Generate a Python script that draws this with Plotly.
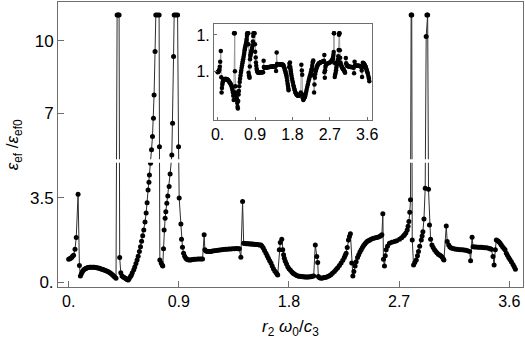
import numpy as np
import plotly.graph_objects as go

# r2*w0/c3 values and eps_ef/eps_ef0 (spikes clipped at ~11)
x_vals = [
    0.000, 0.008, 0.016, 0.024, 0.032, 0.040, 0.052, 0.062, 0.077, 0.088, 0.096, 0.104, 0.112, 0.120,
    0.128, 0.136, 0.144, 0.152, 0.160, 0.170, 0.180, 0.190, 0.200, 0.210, 0.220, 0.230, 0.240, 0.250,
    0.260, 0.270, 0.280, 0.290, 0.300, 0.310, 0.320, 0.330, 0.340, 0.350, 0.360, 0.368, 0.376, 0.387,
    0.396, 0.404, 0.412, 0.417, 0.426, 0.436, 0.446, 0.456, 0.464, 0.472, 0.480, 0.487, 0.495, 0.505,
    0.512, 0.520, 0.532, 0.540, 0.550, 0.559, 0.568, 0.578, 0.587, 0.596, 0.605, 0.614, 0.624, 0.633,
    0.641, 0.649, 0.656, 0.660, 0.669, 0.677, 0.685, 0.693, 0.698, 0.706, 0.712, 0.725, 0.739, 0.742,
    0.745, 0.756, 0.764, 0.769, 0.775, 0.780, 0.788, 0.794, 0.802, 0.810, 0.821, 0.829, 0.843, 0.849,
    0.857, 0.862, 0.876, 0.890, 0.898, 0.903, 0.917, 0.922, 0.930, 0.939, 0.948, 0.957, 0.966, 0.975,
    0.984, 0.995, 1.005, 1.015, 1.025, 1.040, 1.055, 1.070, 1.082, 1.094, 1.107, 1.113, 1.122, 1.132,
    1.142, 1.152, 1.162, 1.175, 1.190, 1.205, 1.220, 1.235, 1.250, 1.265, 1.280, 1.295, 1.310, 1.325,
    1.340, 1.355, 1.370, 1.385, 1.394, 1.407, 1.421, 1.430, 1.440, 1.450, 1.460, 1.470, 1.480, 1.490,
    1.500, 1.510, 1.520, 1.530, 1.540, 1.550, 1.560, 1.571, 1.580, 1.590, 1.600, 1.612, 1.622, 1.632,
    1.642, 1.653, 1.663, 1.673, 1.684, 1.694, 1.702, 1.708, 1.721, 1.729, 1.741, 1.749, 1.756, 1.762,
    1.770, 1.780, 1.790, 1.800, 1.812, 1.824, 1.834, 1.844, 1.856, 1.868, 1.880, 1.890, 1.899, 1.910,
    1.920, 1.930, 1.940, 1.950, 1.960, 1.970, 1.980, 1.990, 2.002, 2.015, 2.027, 2.035, 2.040, 2.050,
    2.062, 2.072, 2.082, 2.092, 2.104, 2.117, 2.130, 2.142, 2.155, 2.171, 2.185, 2.198, 2.212, 2.226,
    2.240, 2.252, 2.260, 2.267, 2.276, 2.286, 2.294, 2.302, 2.313, 2.322, 2.330, 2.340, 2.349, 2.360,
    2.370, 2.380, 2.390, 2.400, 2.410, 2.420, 2.430, 2.440, 2.450, 2.460, 2.471, 2.485, 2.500, 2.515,
    2.526, 2.540, 2.550, 2.559, 2.567, 2.572, 2.580, 2.587, 2.594, 2.605, 2.621, 2.640, 2.662, 2.680,
    2.703, 2.720, 2.735, 2.744, 2.755, 2.766, 2.773, 2.780, 2.787, 2.793, 2.798, 2.803, 2.807, 2.818,
    2.828, 2.840, 2.850, 2.858, 2.868, 2.881, 2.888, 2.894, 2.903, 2.913, 2.921, 2.927, 2.933, 2.940,
    2.948, 2.957, 2.968, 2.978, 2.989, 3.000, 3.010, 3.020, 3.030, 3.040, 3.050, 3.060, 3.066, 3.085,
    3.093, 3.105, 3.115, 3.126, 3.140, 3.155, 3.170, 3.185, 3.200, 3.215, 3.230, 3.245, 3.260, 3.276,
    3.284, 3.296, 3.304, 3.315, 3.330, 3.345, 3.360, 3.372, 3.385, 3.400, 3.415, 3.430, 3.445, 3.453,
    3.467, 3.476, 3.486, 3.494, 3.505, 3.515, 3.525, 3.535, 3.545, 3.555, 3.565, 3.576, 3.585, 3.595,
    3.605, 3.617, 3.630, 3.640, 3.650,
]
eps_ratio = [
    0.96, 0.98, 1.00, 1.03, 1.08, 1.12, 1.37, 1.86, 3.65, 0.70, 0.27, 0.36, 0.44, 0.50,
    0.54, 0.57, 0.59, 0.61, 0.62, 0.63, 0.63, 0.63, 0.63, 0.63, 0.62, 0.61, 0.60, 0.59,
    0.57, 0.55, 0.53, 0.51, 0.49, 0.47, 0.45, 0.42, 0.39, 0.35, 0.31, 0.27, 0.22, 0.17,
    11.07, 11.07, 11.07, 1.03, 0.40, 0.27, 0.22, 0.19, 0.17, 0.14, 0.11, 0.10, 0.16, 0.24,
    0.30, 0.40, 0.52, 0.64, 0.78, 0.93, 1.08, 1.28, 1.48, 1.70, 1.93, 2.17, 2.50, 2.87,
    3.30, 3.83, 4.15, 4.45, 4.93, 5.49, 6.04, 6.80, 7.76, 9.56, 11.07, 11.07, 11.07, 5.62,
    0.93, 0.80, 0.72, 0.68, 1.39, 2.17, 2.66, 2.93, 3.28, 3.58, 3.97, 4.49, 5.28, 6.59,
    9.35, 11.07, 11.07, 11.07, 5.62, 3.49, 2.42, 1.79, 1.46, 1.21, 1.08, 1.00, 0.96, 0.94,
    0.93, 0.93, 0.94, 0.95, 0.96, 0.96, 0.97, 0.97, 0.97, 0.97, 1.97, 1.35, 1.30, 1.28,
    1.28, 1.28, 1.28, 1.30, 1.31, 1.32, 1.33, 1.34, 1.35, 1.36, 1.37, 1.37, 1.38, 1.38,
    1.39, 1.39, 1.40, 1.39, 1.39, 1.04, 3.35, 1.62, 1.61, 1.60, 1.60, 1.60, 1.59, 1.59,
    1.59, 1.58, 1.58, 1.57, 1.57, 1.56, 1.55, 1.55, 1.50, 1.42, 1.32, 1.21, 1.10, 1.00,
    0.90, 0.80, 0.68, 0.57, 0.47, 0.41, 0.35, 0.31, 1.35, 1.65, 1.79, 1.35, 1.15, 1.00,
    0.88, 0.76, 0.65, 0.57, 0.50, 0.43, 0.38, 0.35, 0.31, 0.28, 0.26, 0.25, 0.24, 0.23,
    0.23, 0.22, 0.22, 0.22, 0.22, 0.23, 0.23, 0.25, 0.27, 1.55, 1.07, 0.82, 0.24, 0.19,
    0.17, 0.18, 0.19, 0.20, 0.21, 0.24, 0.28, 0.32, 0.38, 0.45, 0.53, 0.61, 0.70, 0.80,
    0.92, 1.03, 1.12, 1.21, 1.45, 1.76, 1.90, 2.01, 0.80, 0.27, 0.45, 0.68, 0.86, 1.03,
    1.15, 1.26, 1.35, 1.45, 1.53, 1.59, 1.65, 1.70, 1.73, 1.76, 1.79, 1.82, 1.84, 1.86,
    1.87, 1.90, 1.93, 1.97, 2.84, 0.96, 0.68, 1.10, 1.35, 1.50, 1.62, 1.66, 1.69, 1.73,
    1.79, 1.85, 1.92, 1.97, 2.05, 2.17, 2.33, 2.52, 2.90, 3.42, 11.07, 11.07, 1.76, 0.72,
    0.82, 0.93, 1.10, 1.28, 1.50, 1.76, 1.92, 2.10, 2.63, 3.90, 10.18, 11.07, 11.07, 3.86,
    2.38, 1.79, 1.55, 1.45, 1.35, 1.28, 1.22, 1.17, 1.14, 1.10, 1.05, 0.98, 0.93, 2.34,
    1.69, 1.55, 1.47, 1.42, 1.40, 1.38, 1.37, 1.36, 1.35, 1.35, 1.34, 1.33, 1.31, 1.28,
    0.90, 1.87, 1.48, 1.47, 1.47, 1.46, 1.46, 1.46, 1.45, 1.44, 1.43, 1.41, 1.39, 1.37,
    1.07, 0.72, 1.35, 1.76, 1.72, 1.68, 1.62, 1.55, 1.48, 1.41, 1.35, 1.21, 1.12, 1.03,
    0.95, 0.86, 0.74, 0.65, 0.55,
]

x_ticks = [0, 0.9, 1.8, 2.7, 3.6]
x_ticktext = ["0.", "0.9", "1.8", "2.7", "3.6"]
y_ticks = [0, 3.5, 7, 10]
y_ticktext = ["0.", "3.5", "7", "10"]
inset_y_ticks = [1, 10]
inset_y_ticktext = ["1.", "1."]

font = "Liberation Sans, Arial, sans-serif"
axis_col = "#6e6e6e"

fig = go.Figure()

fig.add_trace(go.Scatter(
    x=x_vals, y=eps_ratio, mode="lines+markers",
    line=dict(color="#2e2e2e", width=1),
    marker=dict(color="black", size=5),
    hoverinfo="skip", showlegend=False,
))

# inset: same curve on a log axis, clipped to the inset box
inset_vals = np.clip(np.array(eps_ratio), 10 ** -1.25, 10 ** 1.16)
fig.add_trace(go.Scatter(
    x=x_vals, y=inset_vals, mode="lines+markers",
    line=dict(color="#9a9a9a", width=1),
    marker=dict(color="black", size=4.5),
    xaxis="x2", yaxis="y2",
    hoverinfo="skip", showlegend=False,
))

# axis break: white gap across the vertical lines
fig.add_shape(type="rect", xref="x", yref="y",
              x0=-0.07, x1=3.70, y0=4.95, y1=5.10,
              fillcolor="white", line_width=0, layer="above")

# axis titles placed by hand (no automargin, so the frame stays put)
fig.add_annotation(
    text="<i>r</i><sub>2</sub> <i>ω</i><sub>0</sub>/<i>c</i><sub>3</sub>",
    xref="paper", yref="paper", x=0.5, y=-0.145, xanchor="center", yanchor="middle",
    showarrow=False, font=dict(size=17),
)
fig.add_annotation(
    text="<i>ε</i><sub>ef</sub> /<i>ε</i><sub>ef0</sub>",
    xref="paper", yref="paper", x=-0.095, y=0.5, xanchor="center", yanchor="middle",
    textangle=-90, showarrow=False, font=dict(size=17),
)

common = dict(showline=True, linecolor=axis_col, linewidth=1, mirror=True,
              showgrid=False, zeroline=False, automargin=False, tickcolor=axis_col)

fig.update_layout(
    width=525, height=346,
    margin=dict(l=58, r=2, t=2, b=59),
    paper_bgcolor="white", plot_bgcolor="white",
    font=dict(family=font, size=16, color="black"),
    xaxis=dict(range=[-0.087, 3.712], tickvals=x_ticks, ticktext=x_ticktext,
               ticks="inside", ticklen=6, tickfont=dict(size=16), **common),
    yaxis=dict(range=[-0.19, 11.61], tickvals=y_ticks, ticktext=y_ticktext,
               ticks="inside", ticklen=6, tickfont=dict(size=17), **common),
    xaxis2=dict(domain=[0.3355, 0.675], anchor="y2",
                range=[-0.087, 3.712], tickvals=x_ticks, ticktext=x_ticktext,
                ticks="inside", ticklen=3, tickfont=dict(size=16), **common),
    yaxis2=dict(domain=[0.586, 0.923], anchor="x2", type="log",
                range=[-1.316, 1.30], tickvals=inset_y_ticks, ticktext=inset_y_ticktext,
                ticks="inside", ticklen=3, tickfont=dict(size=16), **common),
)

# the page's default body margin would shift the figure by 8 px
fig.write_html("out.html", config={"displayModeBar": False},
               post_script="document.body.style.margin='0px';")
